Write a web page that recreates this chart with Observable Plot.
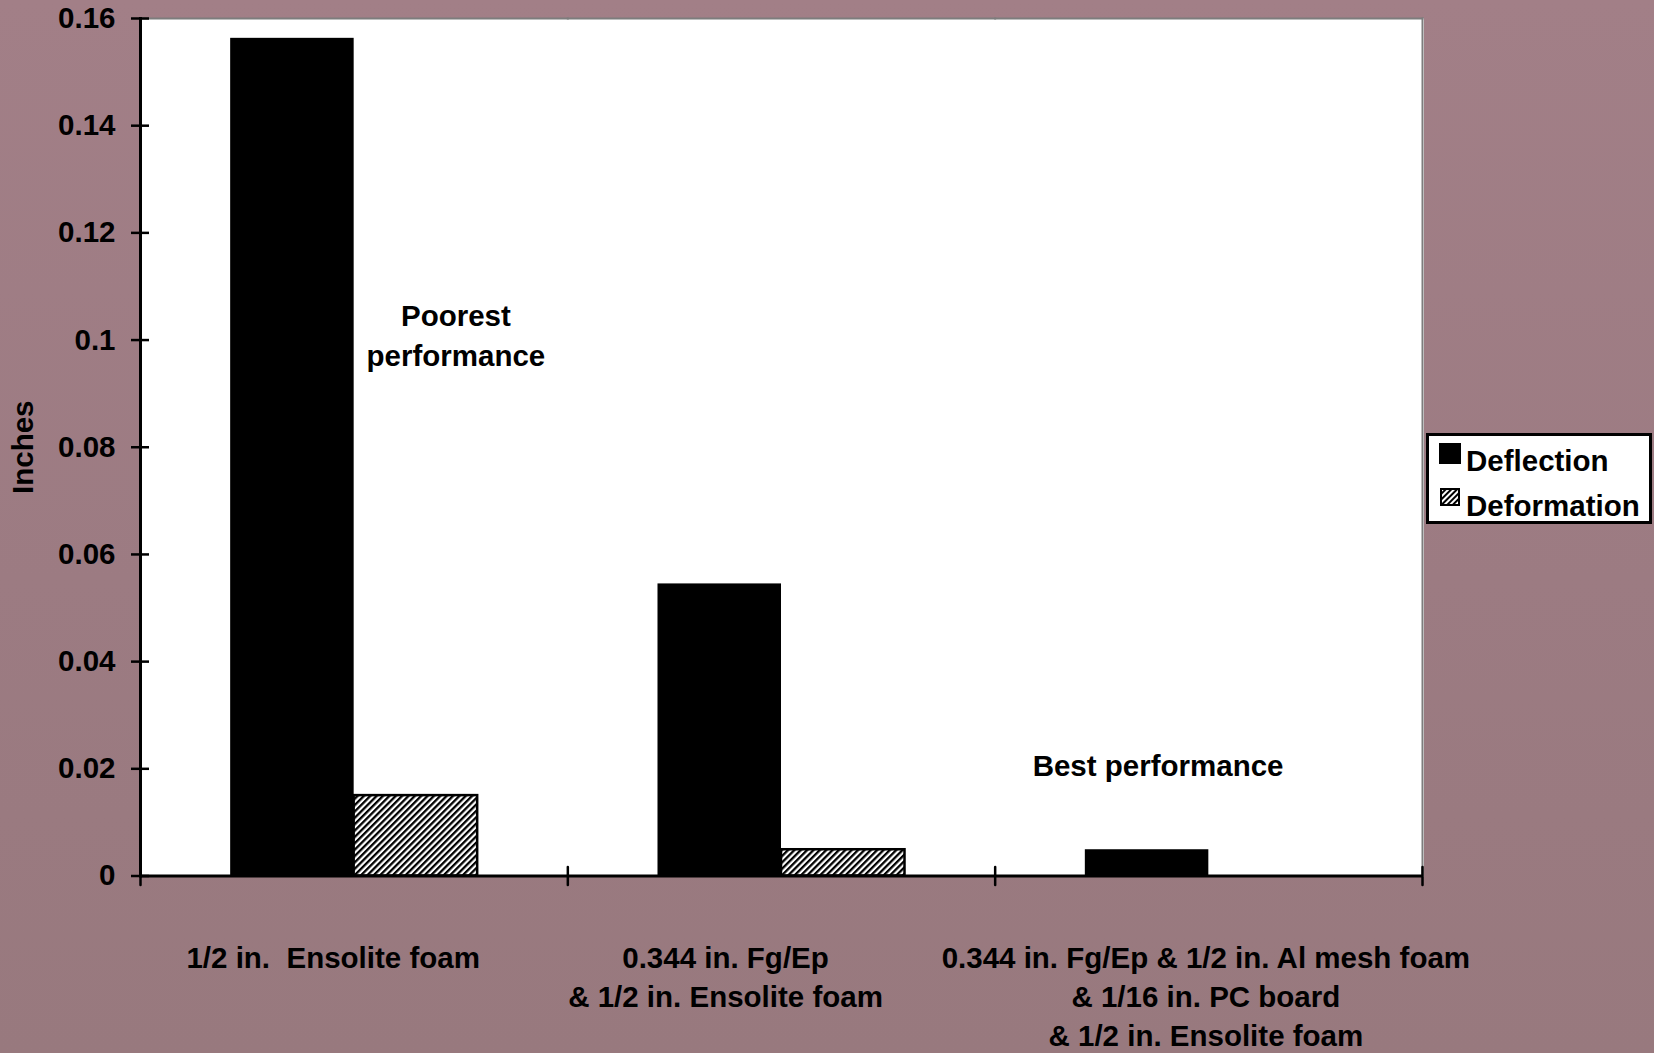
<!DOCTYPE html>
<html>
<head>
<meta charset="utf-8">
<script src="https://cdn.jsdelivr.net/npm/d3@7"></script>
<script src="https://cdn.jsdelivr.net/npm/@observablehq/plot@0.6"></script>
<style>
  html, body { margin: 0; padding: 0; background: #9d7c83; }
  #wrap { position: relative; width: 1654px; height: 1053px; overflow: hidden;
          background: linear-gradient(180deg, #a27f87 0%, #9c7b82 55%, #98797e 100%);
          font-family: "Liberation Sans", Arial, sans-serif; }
  #legend { position: absolute; left: 1426px; top: 433px; width: 226px; height: 91px;
            box-sizing: border-box; border: 3px solid #000; background: #fff; }
  #legend .sw { position: absolute; }
  #legend .lab { position: absolute; font-size: 29.5px; font-weight: bold; color: #000; line-height: 1; white-space: nowrap; }
</style>
</head>
<body>
<div id="wrap"></div>
<script>
// ---- data ----
const categories = [
  "1/2 in.  Ensolite foam",
  "0.344 in. Fg/Ep\n& 1/2 in. Ensolite foam",
  "0.344 in. Fg/Ep & 1/2 in. Al mesh foam\n& 1/16 in. PC board\n& 1/2 in. Ensolite foam"
];
const series = ["Deflection", "Deformation"];
const deflection = [0.1563, 0.0545, 0.0049];
const deformation = [0.0150, 0.0049, 0];
const yTicks = [0, 0.02, 0.04, 0.06, 0.08, 0.1, 0.12, 0.14, 0.16];
const yTickLabels = ["0", "0.02", "0.04", "0.06", "0.08", "0.1", "0.12", "0.14", "0.16"];
const yLabel = "Inches";
const annotations = [
  {group: categories[0], series: "Deformation", value: 0.1, text: "Poorest\nperformance"},
  {group: categories[2], series: "Deflection", value: 0.02, text: "Best performance"}
];

const rows = categories.flatMap((c, i) => [
  {group: c, series: series[0], value: deflection[i]},
  {group: c, series: series[1], value: deformation[i]}
]);

const font = 29.5;
const tickShape = {draw(ctx, l) { ctx.moveTo(0, -l / 2); ctx.lineTo(0, l / 2); }};
const labelOffsets = [-21, -56, -3];

const chart = Plot.plot({
  width: 1654,
  height: 1053,
  marginLeft: 140,
  marginRight: 232,
  marginTop: 18,
  marginBottom: 177.5,
  style: {background: "transparent", fontFamily: "'Liberation Sans', Arial, sans-serif", color: "#000"},
  fx: {domain: categories, padding: 0, round: false, axis: null, label: null},
  x: {domain: series, paddingInner: 0, paddingOuter: 0.73, round: false, axis: null},
  y: {domain: [0, 0.16], axis: null},
  marks: [
    Plot.frame({fill: "white", stroke: "white", strokeWidth: 2, shapeRendering: "crispEdges"}),
    Plot.frame({anchor: "top", stroke: "#7d7d7d", strokeWidth: 2}),
    Plot.frame({anchor: "right", stroke: "#7d7d7d", strokeWidth: 2, facetAnchor: "right"}),
    Plot.barY(rows.filter(d => d.series === series[0]), {fx: "group", x: "series", y: "value", fill: "black"}),
    Plot.barY(rows.filter(d => d.series === series[1] && d.value > 0), {fx: "group", x: "series", y: "value", fill: "url(#hatch)", stroke: "black", strokeWidth: 2.5}),
    Plot.ruleY([0], {stroke: "black", strokeWidth: 3}),
    Plot.frame({anchor: "left", stroke: "black", strokeWidth: 3, facetAnchor: "left"}),
    Plot.axisY({ticks: yTicks, tickFormat: () => "", tickSize: 18, dx: 9, strokeWidth: 2.5, label: null, facetAnchor: "left"}),
    Plot.axisY({ticks: yTicks, tickFormat: d => yTickLabels[yTicks.indexOf(d)], tickSize: 0, tickPadding: 25,
                fontSize: font, fontWeight: "bold", fill: "black", label: null, facetAnchor: "left"}),
    Plot.vector([0], {frameAnchor: "bottom-left", length: 18, anchor: "start", shape: tickShape, stroke: "black", strokeWidth: 2.5}),
    Plot.vector([0], {frameAnchor: "bottom-right", length: 18, anchor: "start", shape: tickShape, stroke: "black", strokeWidth: 2.5, facetAnchor: "right"}),
    ...categories.map((c, i) => Plot.axisFx({ticks: [c], anchor: "bottom", tickSize: 0, tickPadding: 64, lineHeight: 1.33,
                    fontSize: font, fontWeight: "bold", fill: "black", label: null, dx: labelOffsets[i]})),
    Plot.text(annotations.slice(0, 1), {fx: "group", x: "series", y: "value", text: "text", dx: 40, dy: -7, lineHeight: 1.35,
                    fontSize: font, fontWeight: "bold", fill: "black"}),
    Plot.text(annotations.slice(1), {fx: "group", x: "series", y: "value", text: "text", dx: 11, dy: -2,
                    fontSize: font, fontWeight: "bold", fill: "black"}),
    Plot.text([yLabel], {frameAnchor: "left", textAnchor: "middle", rotate: -90, dx: -117, fontSize: font, fontWeight: "bold", fill: "black", facetAnchor: "left"})
  ]
});

d3.select(chart).insert("defs", ":first-child").html(
  '<pattern id="hatch" patternUnits="userSpaceOnUse" width="4.5" height="4.5" patternTransform="rotate(45)">' +
  '<rect width="4.5" height="4.5" fill="white"/><rect x="0" y="0" width="2.3" height="4.5" fill="black"/></pattern>'
);

const wrap = document.getElementById("wrap");
wrap.appendChild(chart);

// legend
const legend = document.createElement("div");
legend.id = "legend";
legend.innerHTML =
  `<svg class="sw" style="left:10px;top:7px" width="22" height="21"><rect width="22" height="21" fill="black"/></svg>` +
  `<span class="lab" style="left:37px;top:10px">${series[0]}</span>` +
  `<svg class="sw" style="left:11px;top:52px" width="20" height="18"><defs><pattern id="hatch2" patternUnits="userSpaceOnUse" width="4" height="4" patternTransform="rotate(45)"><rect width="4" height="4" fill="white"/><rect width="2" height="4" fill="black"/></pattern></defs><rect x="1" y="1" width="18" height="16" fill="url(#hatch2)" stroke="black" stroke-width="2"/></svg>` +
  `<span class="lab" style="left:37px;top:55px">${series[1]}</span>`;
wrap.appendChild(legend);
</script>
</body>
</html>
